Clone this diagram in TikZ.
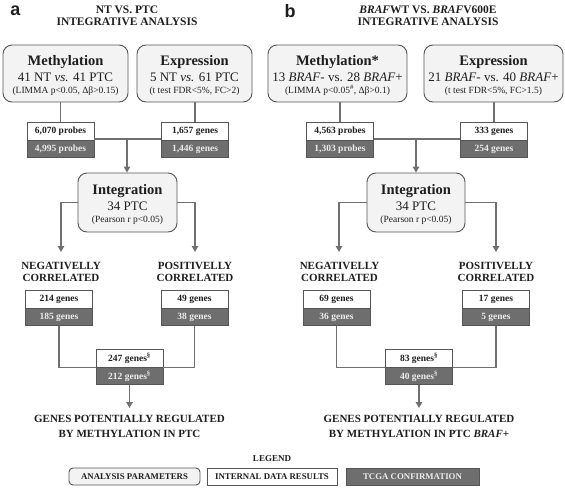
\documentclass[tikz,border=0pt]{standalone}
\usepackage{fontspec}
\setmainfont{Liberation Serif}
\newfontfamily\mysansfont{Liberation Sans}
\usetikzlibrary{arrows.meta}
\definecolor{bordc}{HTML}{555555}
\definecolor{boxc}{HTML}{F3F3F3}
\definecolor{darkc}{HTML}{6E6E6E}
\definecolor{linec}{HTML}{707070}
\definecolor{txtc}{HTML}{1E1E1E}
\definecolor{lightc}{HTML}{EDEDED}
\begin{document}
\begin{tikzpicture}[x=1pt,y=-1pt,
  rbox/.style={draw=bordc, fill=boxc, rounded corners=9pt, line width=0.9pt, inner sep=0pt},
  wbox/.style={draw=bordc, fill=white, line width=0.9pt, minimum width=67pt, minimum height=18pt, inner sep=0pt, font=\fontsize{9.5}{11}\selectfont\bfseries, text=txtc},
  gbox/.style={draw=bordc, fill=darkc, line width=0.9pt, minimum width=67pt, minimum height=17pt, inner sep=0pt, font=\fontsize{9.5}{11}\selectfont\bfseries, text=lightc, anchor=north},
  conn/.style={draw=linec, line width=1.3pt},
  arr/.style={conn, -{Triangle[width=6.5pt,length=6pt]}},
  bigt/.style={font=\fontsize{14.5}{16}\selectfont\bfseries, text=txtc, anchor=base, inner sep=0pt},
  midt/.style={font=\fontsize{13}{15}\selectfont, text=txtc, anchor=base, inner sep=0pt},
  smallt/.style={font=\fontsize{9.5}{11}\selectfont, text=txtc, anchor=base, inner sep=0pt},
  headt/.style={font=\fontsize{11}{12}\selectfont\bfseries, text=txtc, align=center, inner sep=0pt},
  titlet/.style={font=\fontsize{11.5}{12.5}\selectfont\bfseries, text=txtc, align=center, inner sep=0pt},
  panelt/.style={font=\mysansfont\fontsize{18}{18}\selectfont\bfseries, text=txtc, inner sep=0pt},
  legt/.style={font=\fontsize{8.8}{10}\selectfont\bfseries, inner sep=0pt, minimum height=17pt, line width=0.9pt},
]
\useasboundingbox (0,0) rectangle (565,488);

%% ---------------- panel a ----------------
\node[panelt] (la) at (15.5,11) {a};
\node[titlet] (ta) at (127,16) {NT VS. PTC\\INTEGRATIVE ANALYSIS};

\node[rbox, minimum width=125pt, minimum height=57pt] (ma) at (65.5,73.5) {};
\node[bigt] (ma1) at (65.5,65) {Methylation};
\node[midt] (ma2) at (65.5,81) {41 NT \textit{vs.} 41 PTC};
\node[smallt] (ma3) at (65.5,93.5) {(LIMMA p<0.05, Δβ>0.15)};

\node[rbox, minimum width=115pt, minimum height=57pt] (ea) at (194.5,73.5) {};
\node[bigt] (ea1) at (194.5,65) {Expression};
\node[midt] (ea2) at (194.5,81) {5 NT \textit{vs.} 61 PTC};
\node[smallt] (ea3) at (194.5,93.5) {(t test FDR<5\%, FC>2)};

\node[wbox] (pa) at (60.5,131) {6,070 probes};
\node[gbox] (pa2) at (pa.south) {4,995 probes};
\node[wbox] (ga) at (195,131) {1,657 genes};
\node[gbox] (ga2) at (ga.south) {1,446 genes};

\draw[conn] (ma.south -| pa.north) -- (pa.north);
\draw[conn] (ea.south -| ga.north) -- (ga.north);
\coordinate (ja) at (127,139);
\draw[conn] (pa.east |- ja) -- (ga.west |- ja);

\node[rbox, minimum width=99pt, minimum height=59pt] (ia) at (127.5,202.5) {};
\node[bigt] (ia1) at (127.5,194) {Integration};
\node[midt] (ia2) at (127.5,210) {34 PTC};
\node[smallt] (ia3) at (127.5,222.5) {(Pearson r p<0.05)};
\draw[arr] (ja) -- (ia.north -| ja);

\coordinate (na) at (61,252);
\coordinate (pca) at (195,252);
\draw[arr] (ia.west) -| (na);
\draw[arr] (ia.east) -| (pca);

\node[headt] (nta) at (61,272) {NEGATIVELLY\\CORRELATED};
\node[headt] (pta) at (195,272) {POSITIVELLY\\CORRELATED};

\node[wbox] (nba) at (59,299) {214 genes};
\node[gbox] (nba2) at (nba.south) {185 genes};
\node[wbox] (pba) at (194.5,299) {49 genes};
\node[gbox] (pba2) at (pba.south) {38 genes};

\node[wbox] (ra) at (129.5,358) {247 genes\textsuperscript{§}};
\node[gbox] (ra2) at (ra.south) {212 genes\textsuperscript{§}};
\draw[conn] (nba2.south) |- (ra.south west);
\draw[conn] (pba2.south) |- (ra.south east);
\coordinate (oa) at (129.5,408);
\draw[arr] (ra2.south) -- (oa);
\node[headt, font=\fontsize{11}{15}\selectfont\bfseries] (fa) at (129.5,426.5) {GENES POTENTIALLY REGULATED\\BY METHYLATION IN PTC};

%% ---------------- panel b ----------------
\node[panelt] (lb) at (290,11) {b};
\node[titlet] (tb) at (428,16) {\textit{BRAF}WT VS. \textit{BRAF}V600E\\INTEGRATIVE ANALYSIS};

\node[rbox, minimum width=139pt, minimum height=57pt] (mb) at (337.5,73.5) {};
\node[bigt] (mb1) at (337.5,65) {Methylation*};
\node[midt] (mb2) at (337.5,81) {13 \textit{BRAF}- vs. 28 \textit{BRAF}+};
\node[smallt] (mb3) at (337.5,93.5) {(LIMMA p<0.05\textsuperscript{\#}, Δβ>0.1)};

\node[rbox, minimum width=139pt, minimum height=57pt] (eb) at (493.5,73.5) {};
\node[bigt] (eb1) at (493.5,65) {Expression};
\node[midt] (eb2) at (493.5,81) {21 \textit{BRAF}- vs. 40 \textit{BRAF}+};
\node[smallt] (eb3) at (493.5,93.5) {(t test FDR<5\%, FC>1.5)};

\node[wbox] (pb) at (340,131) {4,563 probes};
\node[gbox] (pb2) at (pb.south) {1,303 probes};
\node[wbox] (gb) at (494,131) {333 genes};
\node[gbox] (gb2) at (gb.south) {254 genes};

\draw[conn] (mb.south -| pb.north) -- (pb.north);
\draw[conn] (eb.south -| gb.north) -- (gb.north);
\coordinate (jb) at (416,139);
\draw[conn] (pb.east |- jb) -- (gb.west |- jb);

\node[rbox, minimum width=98pt, minimum height=59pt] (ib) at (416,202.5) {};
\node[bigt] (ib1) at (416,194) {Integration};
\node[midt] (ib2) at (416,210) {34 PTC};
\node[smallt] (ib3) at (416,222.5) {(Pearson r p<0.05)};
\draw[arr] (jb) -- (ib.north -| jb);

\coordinate (nb) at (339,252);
\coordinate (pcb) at (496,252);
\draw[arr] (ib.west) -| (nb);
\draw[arr] (ib.east) -| (pcb);

\node[headt] (ntb) at (339.5,272) {NEGATIVELLY\\CORRELATED};
\node[headt] (ptb) at (496,272) {POSITIVELLY\\CORRELATED};

\node[wbox] (nbb) at (336.5,299) {69 genes};
\node[gbox] (nbb2) at (nbb.south) {36 genes};
\node[wbox] (pbb) at (496,299) {17 genes};
\node[gbox] (pbb2) at (pbb.south) {5 genes};

\node[wbox] (rb) at (419,358) {83 genes\textsuperscript{§}};
\node[gbox] (rb2) at (rb.south) {40 genes\textsuperscript{§}};
\draw[conn] (nbb2.south) |- (rb.south west);
\draw[conn] (pbb2.south) |- (rb.south east);
\coordinate (ob) at (419,408);
\draw[arr] (rb2.south) -- (ob);
\node[headt, font=\fontsize{11}{15}\selectfont\bfseries] (fb) at (419,426.5) {GENES POTENTIALLY REGULATED\\BY METHYLATION IN PTC \textit{BRAF}+};

%% ---------------- legend ----------------
\node[font=\fontsize{9}{10}\selectfont\bfseries, text=txtc, inner sep=0pt] (leg) at (272,459) {LEGEND};
\node[legt, draw=bordc, fill=boxc, rounded corners=4pt, minimum width=131pt, text=txtc] (l1) at (134.5,476.5) {ANALYSIS PARAMETERS};
\node[legt, draw=bordc, fill=white, minimum width=130pt, text=txtc] (l2) at (272,476.5) {INTERNAL DATA RESULTS};
\node[legt, draw=bordc, fill=darkc, minimum width=133pt, text=lightc] (l3) at (412.5,476.5) {TCGA CONFIRMATION};
\end{tikzpicture}
\end{document}
